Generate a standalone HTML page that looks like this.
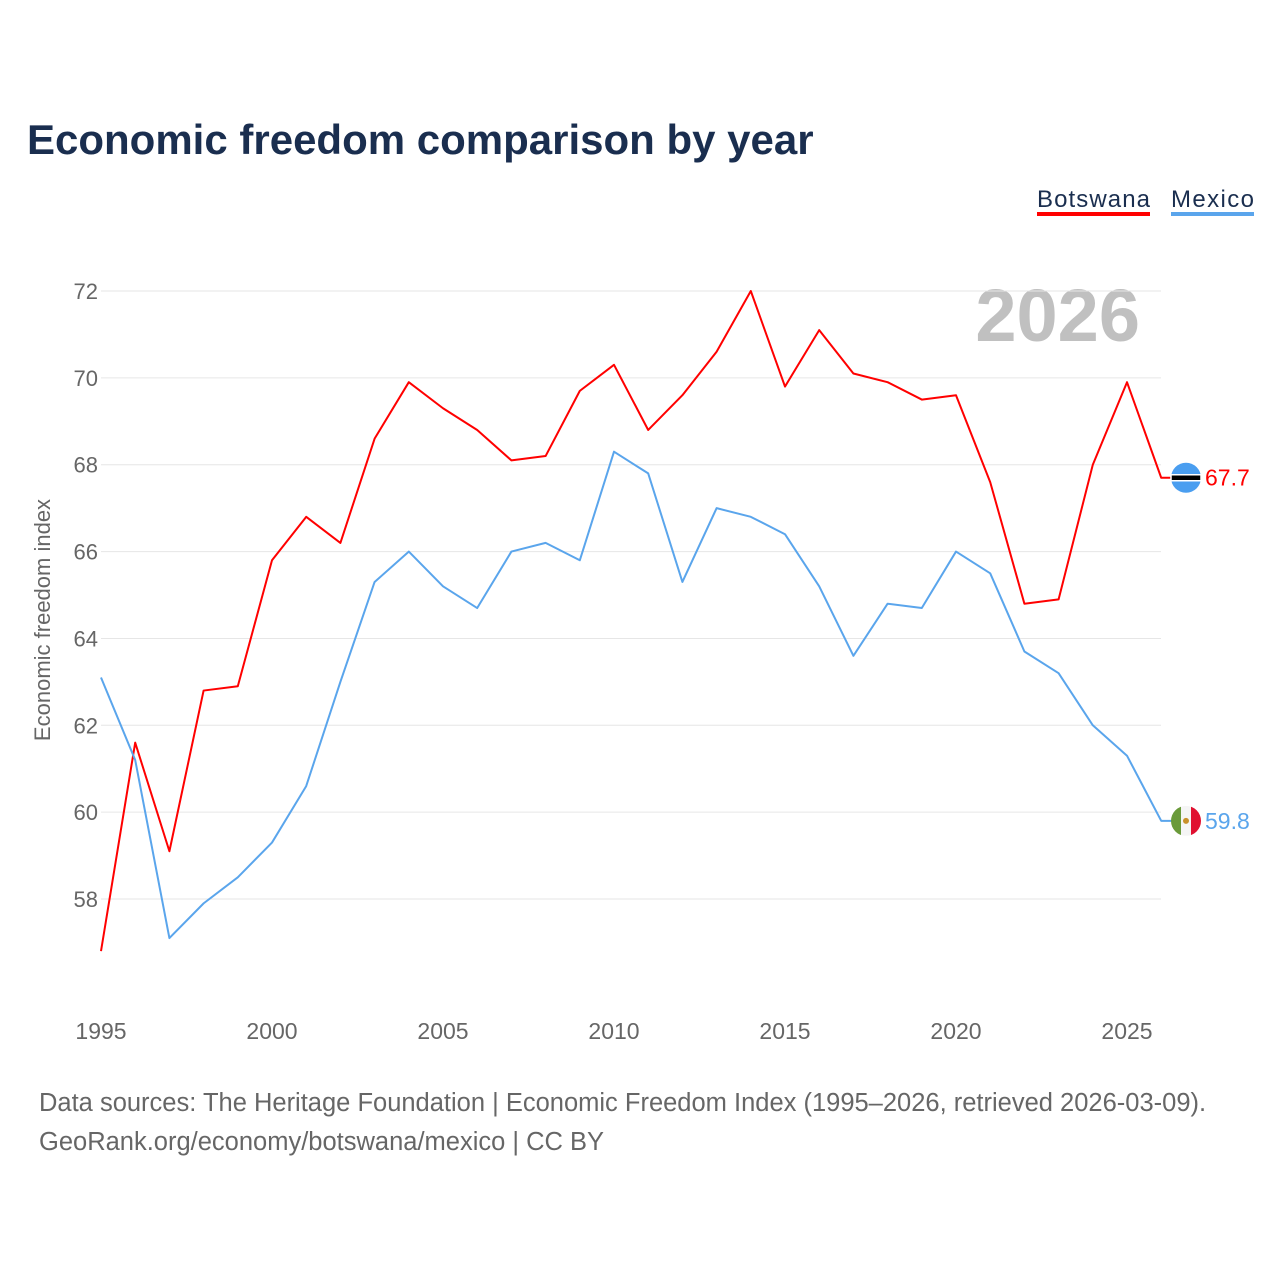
<!DOCTYPE html>
<html><head><meta charset="utf-8"><style>
body{margin:0;background:#fff;font-family:"Liberation Sans",sans-serif}
#wrap{position:relative;width:1280px;height:1280px;overflow:hidden}
</style></head><body>
<div id="wrap">
<svg id="chart" width="1280" height="1280">
<text x="27" y="154" font-size="42" font-weight="bold" fill="#1a2e4f">Economic freedom comparison by year</text>
<g><text x="1037" y="207" font-size="24" fill="#1a2e4f" textLength="113">Botswana</text><rect x="1037" y="212" width="113" height="4" fill="#ff0000"/></g>
<g><text x="1171" y="207" font-size="24" fill="#1a2e4f" textLength="83">Mexico</text><rect x="1171" y="212" width="83" height="4" fill="#5aa5ec"/></g>
<text x="1140" y="341" font-size="74" font-weight="bold" fill="#c0c0c0" text-anchor="end">2026</text>
<text transform="translate(50,620) rotate(-90)" font-size="22" fill="#666" text-anchor="middle">Economic freedom index</text>
<g id="grid"></g><g id="yticks"></g><g id="xticks"></g><g id="lines"></g><g id="ends"></g>
<text x="39" y="1111" font-size="25.5" fill="#666">Data sources: The Heritage Foundation | Economic Freedom Index (1995–2026, retrieved 2026-03-09).</text>
<text x="39" y="1150" font-size="25.5" fill="#666">GeoRank.org/economy/botswana/mexico | CC BY</text>
</svg></div>
<script>
const years=[1995,1996,1997,1998,1999,2000,2001,2002,2003,2004,2005,2006,2007,2008,2009,2010,2011,2012,2013,2014,2015,2016,2017,2018,2019,2020,2021,2022,2023,2024,2025,2026];
const botswana=[56.8,61.6,59.1,62.8,62.9,65.8,66.8,66.2,68.6,69.9,69.3,68.8,68.1,68.2,69.7,70.3,68.8,69.6,70.6,72.0,69.8,71.1,70.1,69.9,69.5,69.6,67.6,64.8,64.9,68.0,69.9,67.7];
const mexico=[63.1,61.2,57.1,57.9,58.5,59.3,60.6,63.0,65.3,66.0,65.2,64.7,66.0,66.2,65.8,68.3,67.8,65.3,67.0,66.8,66.4,65.2,63.6,64.8,64.7,66.0,65.5,63.7,63.2,62.0,61.3,59.8];
const yTicks=[58,60,62,64,66,68,70,72];
const xTicks=[1995,2000,2005,2010,2015,2020,2025];
const NS="http://www.w3.org/2000/svg";
const X=y=>101+(y-1995)*34.2;
const Y=v=>291+(72-v)*43.43;
function mk(t,a,p){const e=document.createElementNS(NS,t);for(const k in a)e.setAttribute(k,a[k]);document.getElementById(p).appendChild(e);return e;}
yTicks.forEach(v=>{
 const l=mk('line',{x1:101,x2:1161,y1:Y(v),y2:Y(v),stroke:'#e6e6e6','stroke-width':1},'grid');
 
 
 const t=mk('text',{x:98,y:Y(v)+8,'font-size':22,fill:'#666','text-anchor':'end'},'yticks');t.textContent=v;
 
 
});
xTicks.forEach(v=>{
 const t=mk('text',{x:X(v),y:1039,'font-size':23,fill:'#666','text-anchor':'middle'},'xticks');t.textContent=v;
 
 
});
function line(d,c,n){
 const pts=d.map((v,i)=>X(years[i])+','+Y(v));
 pts.push('1172,'+Y(d[d.length-1]));
 const p=mk('polyline',{points:pts.join(' '),fill:'none',stroke:c,'stroke-width':2,'stroke-linejoin':'round'},'lines');
 
 
}
line(botswana,'#ff0000','botswana-line');line(mexico,'#5aa5ec','mexico-line');
function end(d,c,n,flag){
 const v=d[d.length-1],cy=Y(v),cx=1186;
 const g=mk('g',{},'ends');
 
 
 if(flag==='bw'){
  const a=document.createElementNS(NS,'circle');a.setAttribute('cx',cx);a.setAttribute('cy',cy);a.setAttribute('r',15);a.setAttribute('fill','#4a9ef0');g.appendChild(a);
  const r=document.createElementNS(NS,'rect');r.setAttribute('x',cx-15);r.setAttribute('y',cy-3);r.setAttribute('width',30);r.setAttribute('height',6);r.setAttribute('fill','#000');r.setAttribute('stroke','#fff');r.setAttribute('stroke-width',1.5);g.appendChild(r);
 }else{
  [['#6a9a3a',-15],['#f5f5f5',-5],['#e01030',5]].forEach(([f,o])=>{const r=document.createElementNS(NS,'rect');r.setAttribute('x',cx+o);r.setAttribute('y',cy-15);r.setAttribute('width',10);r.setAttribute('height',30);r.setAttribute('fill',f);r.setAttribute('clip-path','url(#cl)');g.appendChild(r);});
  const e=document.createElementNS(NS,'circle');e.setAttribute('cx',cx);e.setAttribute('cy',cy);e.setAttribute('r',3);e.setAttribute('fill','#c8902a');g.appendChild(e);
 }
 const t=document.createElementNS(NS,'text');t.setAttribute('x',1205);t.setAttribute('y',cy+8);t.setAttribute('font-size',23);t.setAttribute('fill',c);t.textContent=v.toFixed(1);g.appendChild(t);
}
const defs=document.createElementNS(NS,'defs');defs.innerHTML='<clipPath id="cl"><circle cx="1186" cy="'+Y(mexico[mexico.length-1])+'" r="15"/></clipPath>';document.getElementById('chart').appendChild(defs);
end(botswana,'#ff0000','botswana-end-label','bw');end(mexico,'#5aa5ec','mexico-end-label','mx');
</script></body></html>
